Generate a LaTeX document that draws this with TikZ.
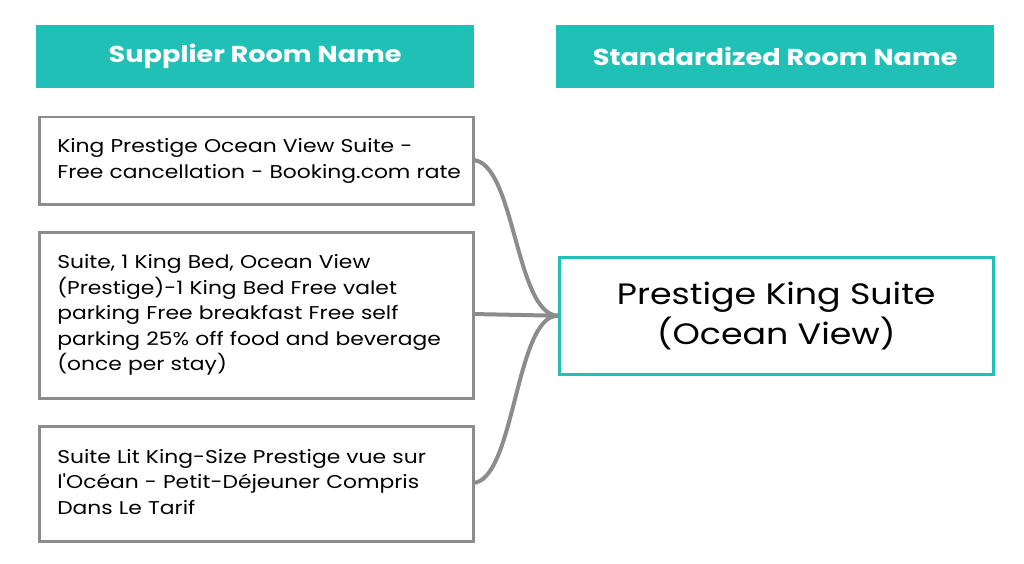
\documentclass[tikz,border=0pt]{standalone}
\usepackage{fontspec}
\setmainfont[FakeStretch=1.18]{Poppins}
\newfontfamily\plainf[FakeStretch=1.18]{Poppins}
\definecolor{teal1}{HTML}{20C0B6}
\definecolor{gray1}{HTML}{8C8C8C}
\begin{document}
\begin{tikzpicture}[x=1pt,y=-1pt,
  hdr/.style={fill=teal1,text=white,font=\fontsize{23}{27}\selectfont\bfseries,minimum width=438pt,minimum height=63pt,inner sep=0pt,anchor=north west},
  srcbox/.style={draw=gray1,line width=2.5pt,fill=white,minimum width=434pt,inner sep=0pt,anchor=north west,text width=398pt,align=left,font=\fontsize{18.5}{25.5}\selectfont},
  stdbox/.style={draw=teal1,line width=2.5pt,minimum width=434pt,minimum height=117pt,inner sep=0pt,anchor=north west,align=center,font=\fontsize{29.5}{40}\selectfont},
  conn/.style={draw=gray1,line width=4pt}]
\useasboundingbox (0,0) rectangle (1024,564);
\node[hdr] (h1) at (36,25) {Supplier Room Name};
\node[hdr] (h2) at (556,25) {Standardized Room Name};
\node[stdbox] (std) at (558,256) {Prestige King Suite\\(Ocean View)};
\draw[conn] (472,160) coordinate (c1) .. controls (515,160) and (515,315) .. (std.west);
\draw[conn] (472,314) coordinate (c2) -- (std.west);
\draw[conn] (472,483) coordinate (c3) .. controls (515,483) and (515,315) .. (std.west);
\node[srcbox,minimum height=87pt] (b1) at (38,116) {\mbox{King Prestige Ocean View Suite -}\\\mbox{Free cancellation - Booking.com rate}};
\node[srcbox,minimum height=166pt] (b2) at (38,231) {\mbox{Suite, 1 King Bed, Ocean View}\\\mbox{(Prestige)-1 King Bed Free valet}\\\mbox{parking Free breakfast Free self}\\\mbox{parking 25\% off food and beverage}\\\mbox{(once per stay)}};
\node[srcbox,minimum height=115pt] (b3) at (38,425) {\mbox{Suite Lit King-Size Prestige vue sur}\\\mbox{l{\plainf'}Océan - Petit-Déjeuner Compris}\\\mbox{Dans Le Tarif}\vspace{4pt}};
\end{tikzpicture}
\end{document}
